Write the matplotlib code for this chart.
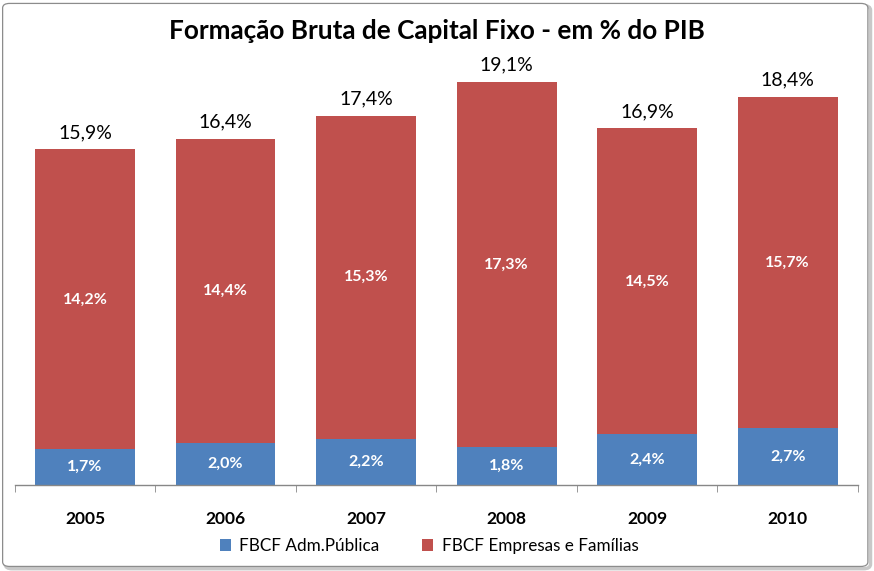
import matplotlib
matplotlib.use("Agg")
import matplotlib.pyplot as plt
from matplotlib.patches import FancyBboxPatch
import numpy as np

years = ["2005", "2006", "2007", "2008", "2009", "2010"]
adm_publica = [1.7, 2.0, 2.2, 1.8, 2.4, 2.7]
empresas_familias = [14.2, 14.4, 15.3, 17.3, 14.5, 15.7]
totais = [15.9, 16.4, 17.4, 19.1, 16.9, 18.4]

series_names = ["FBCF Adm.Pública", "FBCF Empresas e Famílias"]
title = "Formação Bruta de Capital Fixo - em % do PIB"

BLUE = "#4F81BD"
RED = "#C0504D"
FONT = ["Lato", "DejaVu Sans"]

plt.rcParams["font.family"] = FONT

def fmt(v):
    return f"{v:.1f}".replace(".", ",") + "%"

fig = plt.figure(figsize=(8.74, 5.71), dpi=100)

# rounded border with shadow
shadow = FancyBboxPatch((0.006, 0.004), 0.990, 0.986, boxstyle="round,pad=0,rounding_size=0.008",
                        transform=fig.transFigure, facecolor="none", edgecolor="#c8c8c8",
                        linewidth=2.5, zorder=-3)
fig.patches.append(shadow)
border = FancyBboxPatch((0.003, 0.008), 0.990, 0.986, boxstyle="round,pad=0,rounding_size=0.008",
                        transform=fig.transFigure, facecolor="white", edgecolor="#8c8c8c",
                        linewidth=0.9, zorder=-2)
fig.patches.append(border)

ax = fig.add_axes([0.0168, 0.1506, 0.9649, 0.7443])
ax.set_zorder(2)
ax.set_facecolor("none")
x = np.arange(len(years))
w = 0.71
b1 = ax.bar(x, adm_publica, w, color=BLUE, label=series_names[0], zorder=2)
b2 = ax.bar(x, empresas_familias, w, bottom=adm_publica, color=RED, label=series_names[1], zorder=2)

for i in range(len(years)):
    ax.text(x[i], adm_publica[i] / 2, fmt(adm_publica[i]), ha="center", va="center",
            color="white", fontsize=11.5, fontweight="bold")
    ax.text(x[i], adm_publica[i] + empresas_familias[i] / 2, fmt(empresas_familias[i]),
            ha="center", va="center", color="white", fontsize=11.5, fontweight="bold")
    ax.annotate(fmt(totais[i]), (x[i], adm_publica[i] + empresas_familias[i]),
                xytext=(0, 6), textcoords="offset points", ha="center", va="bottom",
                fontsize=14, color="black")

ax.set_xlim(-0.5, len(years) - 0.5)
ax.set_ylim(0, 20.14)
ax.set_yticks([])
for s in ["top", "left", "right"]:
    ax.spines[s].set_visible(False)
ax.spines["bottom"].set_color("#878787")
ax.spines["bottom"].set_linewidth(1.0)
ax.set_xticks(x)
ax.set_xticklabels(years, fontsize=12.5, fontweight="bold")
ax.tick_params(axis="x", which="major", length=0, pad=19)
ax.set_xticks(np.arange(-0.5, len(years)), minor=True)
ax.tick_params(axis="x", which="minor", length=5, color="#878787", direction="out")

fig.text(0.5, 0.945, title, ha="center", va="center", fontsize=18.8, fontweight="bold")

fig.legend(handles=[b1, b2], labels=series_names, loc="center", ncol=2,
           bbox_to_anchor=(0.491, 0.044), frameon=False, fontsize=12.3,
           handlelength=0.65, handleheight=0.65, columnspacing=2.5, handletextpad=0.5)

fig.savefig("out.png", dpi=100)
